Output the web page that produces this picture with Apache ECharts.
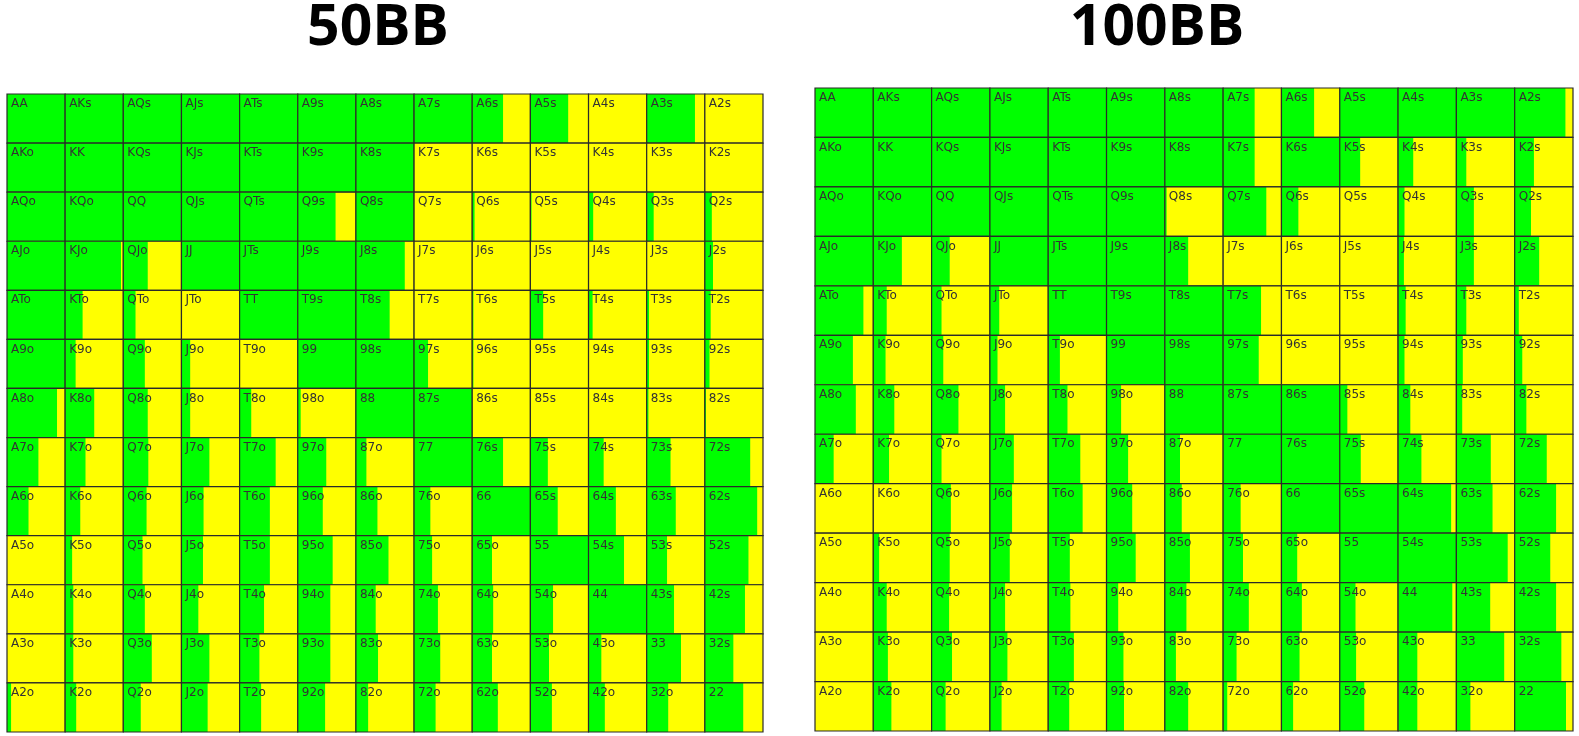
<!DOCTYPE html>
<html lang="en">
<head>
    <meta charset="UTF-8">
    <title>50BB / 100BB</title>
    <script src="https://cdn.jsdelivr.net/npm/echarts@6/dist/echarts.min.js"></script>
    <style>
        html, body { margin: 0; padding: 0; background: #fff; }
        #chart { width: 1579px; height: 736px; }
    </style>
</head>
<body>
    <div id="chart"></div>
    <script type="text/javascript">
        // card ranks, used for both axes and for the hand names
        var ranks = ['A', 'K', 'Q', 'J', 'T', '9', '8', '7', '6', '5', '4', '3', '2'];

        // green share of each cell (row = first rank, col = second rank), 50BB
        var green50 = [
            [1, 1, 1, 1, 1, 1, 1, 1, 0.53, 0.65, 0, 0.83, 0],
            [1, 1, 1, 1, 1, 1, 1, 0, 0, 0, 0, 0, 0],
            [1, 1, 1, 1, 1, 0.65, 1, 0, 0.04, 0.02, 0.08, 0.12, 0.12],
            [1, 0.96, 0.42, 1, 1, 1, 0.84, 0, 0, 0, 0, 0, 0.14],
            [1, 0.30, 0.21, 0, 1, 1, 0.58, 0, 0.02, 0.22, 0.07, 0.04, 0.10],
            [1, 0.18, 0.37, 0.15, 0, 1, 1, 0.24, 0.02, 0, 0, 0.04, 0.08],
            [0.86, 0.50, 0.42, 0.15, 0.20, 0.05, 1, 1, 0, 0, 0, 0.03, 0.02],
            [0.54, 0.35, 0.43, 0.48, 0.62, 0.49, 0.18, 1, 0.53, 0.30, 0.26, 0.41, 0.78],
            [0.37, 0.26, 0.40, 0.38, 0.52, 0.43, 0.37, 0.28, 1, 0.47, 0.47, 0.50, 0.90],
            [0, 0.12, 0.33, 0.37, 0.52, 0.60, 0.56, 0.31, 0.34, 1, 0.61, 0.35, 0.75],
            [0, 0.14, 0.37, 0.29, 0.42, 0.56, 0.34, 0.41, 0.36, 0.39, 1, 0.47, 0.69],
            [0, 0.14, 0.49, 0.48, 0.34, 0.56, 0.38, 0.45, 0.34, 0.32, 0.22, 0.59, 0.49],
            [0.07, 0.19, 0.30, 0.45, 0.37, 0.47, 0.21, 0.37, 0.44, 0.37, 0.28, 0.37, 0.66]
        ];

        // same for 100BB
        var green100 = [
            [1, 1, 1, 1, 1, 1, 1, 0.54, 0.56, 1, 1, 1, 0.87],
            [1, 1, 1, 1, 1, 1, 1, 0.54, 1, 0.35, 0.26, 0.17, 0.33],
            [1, 1, 1, 1, 1, 1, 0.03, 0.74, 0.29, 0, 0.11, 0.30, 0.28],
            [1, 0.49, 0.31, 1, 1, 1, 0.40, 0, 0, 0, 0.10, 0.30, 0.42],
            [0.83, 0.23, 0.17, 0.16, 1, 1, 1, 0.65, 0, 0, 0.13, 0.17, 0.07],
            [0.65, 0.21, 0.20, 0.13, 0.20, 1, 1, 0.61, 0, 0, 0.11, 0.11, 0.13],
            [0.70, 0.36, 0.46, 0.26, 0.33, 0.25, 1, 1, 1, 0.13, 0.21, 0.10, 0.20],
            [0.32, 0.27, 0.17, 0.41, 0.55, 0.37, 0.26, 1, 1, 0.36, 0.40, 0.59, 0.55],
            [0, 0, 0.33, 0.38, 0.59, 0.44, 0.29, 0.30, 1, 1, 0.91, 0.62, 0.71],
            [0, 0.10, 0.31, 0.34, 0.37, 0.50, 0.43, 0.34, 0.27, 1, 1, 0.88, 0.61],
            [0, 0.23, 0.30, 0.26, 0.38, 0.20, 0.37, 0.44, 0.35, 0.27, 0.93, 0.58, 0.71],
            [0, 0.25, 0.35, 0.30, 0.44, 0.29, 0.19, 0.23, 0.31, 0.28, 0.33, 0.82, 0.80],
            [0, 0.31, 0.24, 0.20, 0.36, 0.30, 0.40, 0.07, 0.20, 0.42, 0.33, 0.24, 0.88]
        ];

        var titles = ['50BB', '100BB'];

        // hand name for a cell: pairs on the diagonal, suited above, offsuit below
        function handName(row, col) {
            if (row === col) return ranks[row] + ranks[col];
            if (col > row) return ranks[row] + ranks[col] + 's';
            return ranks[col] + ranks[row] + 'o';
        }

        function buildData(table) {
            var out = [];
            for (var i = 0; i < table.length; i++) {
                for (var j = 0; j < table[i].length; j++) {
                    out.push([j, i, table[i][j]]);
                }
            }
            return out;
        }

        function renderCell(params, api) {
            var col = api.value(0);
            var row = api.value(1);
            var frac = api.value(2);
            var c = api.coord([col, row]);
            var s = api.size([1, 1]);
            var x0 = c[0] - s[0] / 2;
            var y0 = c[1] - s[1] / 2;
            return {
                type: 'group',
                children: [
                    { type: 'rect', shape: { x: x0, y: y0, width: s[0], height: s[1] }, style: { fill: '#ffff00' } },
                    { type: 'rect', shape: { x: x0, y: y0, width: s[0] * frac, height: s[1] }, style: { fill: '#00ff00' } },
                    { type: 'rect', shape: { x: x0, y: y0, width: s[0], height: s[1] }, style: { fill: null, stroke: '#2a2a2a', lineWidth: 1.2 } },
                    {
                        type: 'text', x: x0 + 4, y: y0 + 4,
                        style: { text: handName(row, col), fill: '#333', font: '12px "DejaVu Sans"', textVerticalAlign: 'top' }
                    }
                ]
            };
        }

        var myChart = echarts.init(document.getElementById('chart'), null, { renderer: 'canvas' });

        var grids = [
            { left: 7, top: 94, width: 756, height: 638 },
            { left: 815, top: 88, width: 758, height: 643 }
        ];
        var tables = [green50, green100];
        var titleX = [378, 1157];

        var option = {
            backgroundColor: '#fff',
            animation: false,
            grid: grids,
            xAxis: [0, 1].map(function (k) {
                return { type: 'category', data: ranks, gridIndex: k, show: false };
            }),
            yAxis: [0, 1].map(function (k) {
                return { type: 'category', data: ranks, gridIndex: k, inverse: true, show: false };
            }),
            graphic: titles.map(function (t, k) {
                return {
                    type: 'text', x: titleX[k], y: 29,
                    style: {
                        text: t, fill: '#000', font: 'bold 57px "Open Sans"',
                        textAlign: 'center', textVerticalAlign: 'middle'
                    }
                };
            }),
            series: tables.map(function (tbl, k) {
                return {
                    type: 'custom',
                    xAxisIndex: k,
                    yAxisIndex: k,
                    renderItem: renderCell,
                    data: buildData(tbl)
                };
            })
        };

        myChart.setOption(option);
    </script>
</body>
</html>
